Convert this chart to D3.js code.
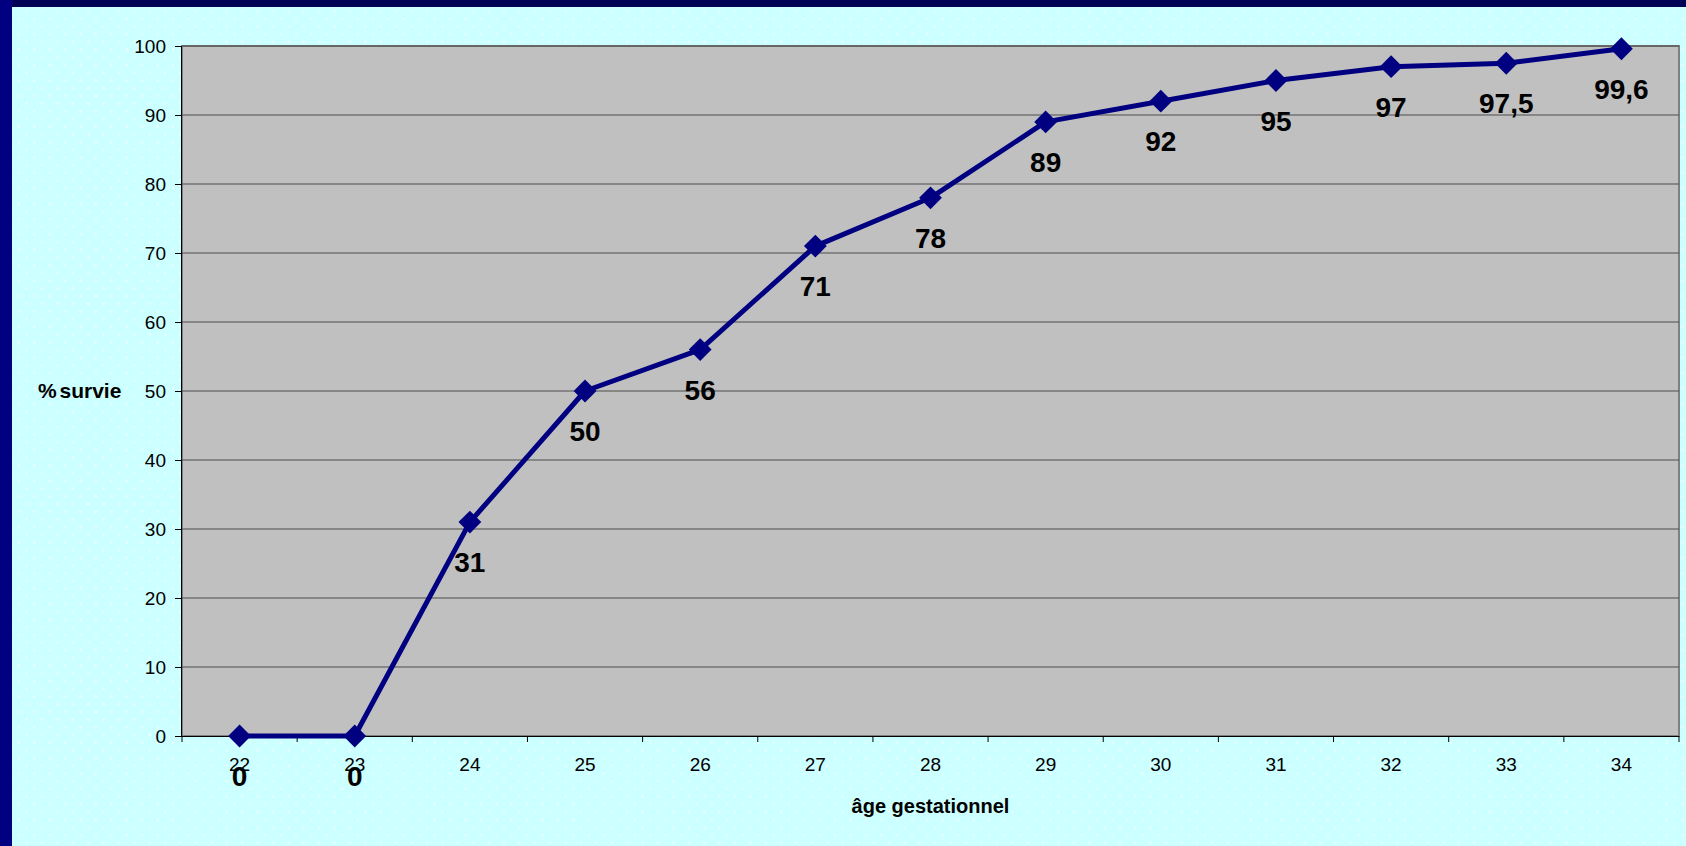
<!DOCTYPE html>
<html>
<head>
<meta charset="utf-8">
<script src="https://cdn.jsdelivr.net/npm/d3@7"></script>
<style>
  html, body { margin: 0; padding: 0; background: #ccffff; }
  svg { display: block; }
  .axis text { font-family: "Liberation Sans", Arial, sans-serif; font-size: 19px; fill: #000; }
  .axis path, .axis line { stroke: #000; }
</style>
</head>
<body>
<div id="chart_area"></div>
<script>
// gestational age (weeks) and survival (%)
var weeks = ["22", "23", "24", "25", "26", "27", "28", "29", "30", "31", "32", "33", "34"];
var survival = [0, 0, 31, 50, 56, 71, 78, 89, 92, 95, 97, 97.5, 99.6];
var valueLabels = ["0", "0", "31", "50", "56", "71", "78", "89", "92", "95", "97", "97,5", "99,6"];
var yTicks = [0, 10, 20, 30, 40, 50, 60, 70, 80, 90, 100];

var frame_width = 1686;
var frame_height = 846;
var margin = {top: 46, right: 7, bottom: 110, left: 182};
var canvas_width = frame_width - margin.left - margin.right;
var canvas_height = frame_height - margin.top - margin.bottom;

var frame = d3.select("#chart_area").append("svg")
    .attr("width", frame_width)
    .attr("height", frame_height);

// dotted cyan background
var defs = frame.append("defs");
var pat = defs.append("pattern")
    .attr("id", "dots")
    .attr("patternUnits", "userSpaceOnUse")
    .attr("width", 15.4).attr("height", 15.4);
pat.append("rect").attr("width", 15.4).attr("height", 15.4).attr("fill", "#ccffff");
pat.append("circle").attr("cx", 3.5).attr("cy", 3.5).attr("r", 1).attr("fill", "#f2ffff");
pat.append("circle").attr("cx", 11.2).attr("cy", 11.2).attr("r", 1).attr("fill", "#f2ffff");

frame.append("rect").attr("width", frame_width).attr("height", frame_height).attr("fill", "url(#dots)");
// navy borders left and top
frame.append("rect").attr("x", 0).attr("y", 0).attr("width", frame_width).attr("height", 7).attr("fill", "#000055");
frame.append("rect").attr("x", 0).attr("y", 0).attr("width", 12).attr("height", frame_height).attr("fill", "#000080");

var canvas = frame.append("g")
    .attr("transform", "translate(" + margin.left + "," + margin.top + ")");

var xScale = d3.scaleBand().domain(weeks).range([0, canvas_width]).padding(0);
var yScale = d3.scaleLinear().domain([0, 100]).range([canvas_height, 0]);

// plot area
canvas.append("rect")
    .attr("width", canvas_width)
    .attr("height", canvas_height)
    .attr("fill", "#c0c0c0")
    .attr("stroke", "#808080")
    .attr("stroke-width", 2);

// gridlines
canvas.append("g")
    .selectAll("line")
    .data(yTicks.filter(function(d){ return d > 0; }))
    .enter().append("line")
    .attr("x1", 0).attr("x2", canvas_width)
    .attr("y1", function(d){ return yScale(d); })
    .attr("y2", function(d){ return yScale(d); })
    .attr("stroke", "#4d4d4d")
    .attr("stroke-width", 1);

// y axis
var yAxis = d3.axisLeft(yScale).tickValues(yTicks).tickSize(7).tickPadding(9).tickFormat(d3.format("d"));
canvas.append("g").attr("class", "y axis").call(yAxis)
    .call(function(g){ g.select(".domain").attr("d", "M-0.5," + canvas_height + "V0"); });

// x axis: labels centred in bands, ticks on band edges
var xAxis = d3.axisBottom(xScale).tickSize(0).tickPadding(22);
var xg = canvas.append("g").attr("class", "x axis")
    .attr("transform", "translate(0," + canvas_height + ")")
    .call(xAxis);
xg.select(".domain").attr("d", "M0,0.5H" + canvas_width);
var edges = weeks.map(function(w){ return xScale(w); }).concat([canvas_width]);
xg.selectAll(".edge").data(edges).enter().append("line")
    .attr("class", "edge")
    .attr("x1", function(d){ return d; }).attr("x2", function(d){ return d; })
    .attr("y1", 0).attr("y2", 6)
    .attr("stroke", "#000");

// axis titles
frame.append("text")
    .attr("x", margin.left + canvas_width / 2)
    .attr("y", 813)
    .attr("text-anchor", "middle")
    .style("font-family", "Liberation Sans, Arial, sans-serif")
    .style("font-size", "20px")
    .style("font-weight", "bold")
    .text("âge gestationnel");

frame.append("text")
    .attr("x", 38)
    .attr("y", margin.top + yScale(50) + 7)
    .style("font-family", "Liberation Sans, Arial, sans-serif")
    .style("font-size", "21px")
    .style("font-weight", "bold")
    .style("word-spacing", "-3px")
    .text("% survie");

// series
var points = weeks.map(function(w, i){ return {week: w, value: survival[i], label: valueLabels[i]}; });
var cx = function(d){ return xScale(d.week) + xScale.bandwidth() / 2; };
var cy = function(d){ return yScale(d.value); };

var line = d3.line().x(cx).y(cy);
canvas.append("path")
    .datum(points)
    .attr("d", line)
    .attr("fill", "none")
    .attr("stroke", "#000080")
    .attr("stroke-width", 5)
    .attr("stroke-linejoin", "round");

var diamond = d3.symbol().type(d3.symbolSquare).size(260);
canvas.selectAll(".marker").data(points).enter().append("path")
    .attr("class", "marker")
    .attr("d", diamond)
    .attr("transform", function(d){ return "translate(" + cx(d) + "," + cy(d) + ") rotate(45)"; })
    .attr("fill", "#000080");

canvas.selectAll(".vlabel").data(points).enter().append("text")
    .attr("class", "vlabel")
    .attr("x", cx)
    .attr("y", function(d){ return cy(d) + 50; })
    .attr("text-anchor", "middle")
    .style("font-family", "Liberation Sans, Arial, sans-serif")
    .style("font-size", "28px")
    .style("font-weight", "bold")
    .text(function(d){ return d.label; });
</script>
</body>
</html>
